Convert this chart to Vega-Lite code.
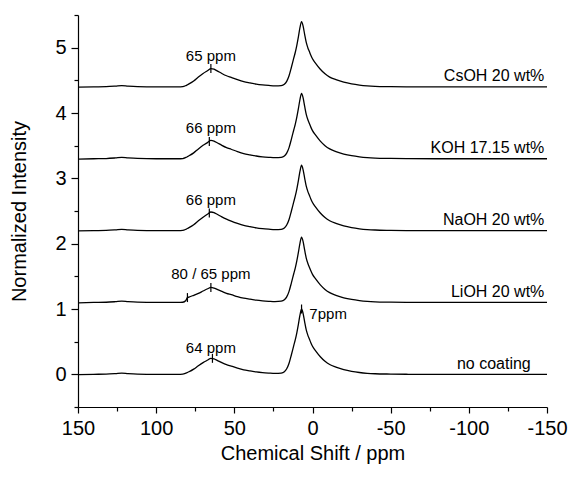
{
  "$schema": "https://vega.github.io/schema/vega-lite/v6.json",
  "width": 469,
  "height": 392,
  "autosize": "none",
  "padding": {"left": 78, "top": 15, "right": 24, "bottom": 70},
  "background": "white",
  "config": {
    "view": {"stroke": null},
    "font": "Liberation Sans",
    "axis": {
      "domainColor": "black", "tickColor": "black", "labelColor": "black", "titleColor": "black",
      "grid": false, "labelFont": "Liberation Sans", "titleFont": "Liberation Sans",
      "labelFontSize": 20, "titleFontSize": 20, "titleFontWeight": "normal", "domainWidth": 1.2, "tickWidth": 1.2
    }
  },
  "datasets": {
    "spectra": [
      {"x": 150, "a": -0.005, "b": 1.095, "c": 2.195, "d": 3.295, "e": 4.395},
      {"x": 140, "a": 0, "b": 1.1, "c": 2.2, "d": 3.3, "e": 4.4},
      {"x": 132, "a": 0.003, "b": 1.103, "c": 2.203, "d": 3.303, "e": 4.403},
      {"x": 126, "a": 0.012, "b": 1.112, "c": 2.212, "d": 3.312, "e": 4.412},
      {"x": 122, "a": 0.02, "b": 1.12, "c": 2.22, "d": 3.32, "e": 4.42},
      {"x": 118, "a": 0.012, "b": 1.112, "c": 2.212, "d": 3.312, "e": 4.412},
      {"x": 112, "a": 0.004, "b": 1.104, "c": 2.204, "d": 3.304, "e": 4.404},
      {"x": 100, "a": 0, "b": 1.1, "c": 2.2, "d": 3.3, "e": 4.4},
      {"x": 90, "a": 0, "b": 1.1, "c": 2.2, "d": 3.3, "e": 4.4},
      {"x": 86, "a": 0, "b": 1.1, "c": 2.2, "d": 3.3, "e": 4.4},
      {"x": 83, "a": 0.003, "b": 1.103, "c": 2.203, "d": 3.303, "e": 4.403},
      {"x": 81, "a": 0.018, "b": 1.13, "c": 2.22, "d": 3.32, "e": 4.42},
      {"x": 80, "a": 0.028, "b": 1.175, "c": 2.232, "d": 3.332, "e": 4.432},
      {"x": 79, "a": 0.039, "b": 1.182, "c": 2.245, "d": 3.345, "e": 4.445},
      {"x": 76, "a": 0.079, "b": 1.21, "c": 2.29, "d": 3.39, "e": 4.49},
      {"x": 73, "a": 0.131, "b": 1.24, "c": 2.35, "d": 3.45, "e": 4.55},
      {"x": 70, "a": 0.179, "b": 1.275, "c": 2.405, "d": 3.505, "e": 4.605},
      {"x": 67, "a": 0.219, "b": 1.31, "c": 2.455, "d": 3.55, "e": 4.65},
      {"x": 65, "a": 0.245, "b": 1.33, "c": 2.485, "d": 3.58, "e": 4.68},
      {"x": 63, "a": 0.236, "b": 1.32, "c": 2.475, "d": 3.57, "e": 4.67},
      {"x": 61, "a": 0.214, "b": 1.3, "c": 2.45, "d": 3.545, "e": 4.645},
      {"x": 58, "a": 0.179, "b": 1.27, "c": 2.41, "d": 3.505, "e": 4.605},
      {"x": 55, "a": 0.149, "b": 1.24, "c": 2.375, "d": 3.47, "e": 4.57},
      {"x": 52, "a": 0.127, "b": 1.22, "c": 2.345, "d": 3.445, "e": 4.545},
      {"x": 48, "a": 0.096, "b": 1.19, "c": 2.31, "d": 3.41, "e": 4.51},
      {"x": 44, "a": 0.07, "b": 1.166, "c": 2.28, "d": 3.38, "e": 4.48},
      {"x": 40, "a": 0.053, "b": 1.15, "c": 2.26, "d": 3.36, "e": 4.46},
      {"x": 36, "a": 0.037, "b": 1.135, "c": 2.242, "d": 3.342, "e": 4.442},
      {"x": 32, "a": 0.026, "b": 1.125, "c": 2.23, "d": 3.33, "e": 4.43},
      {"x": 28, "a": 0.019, "b": 1.118, "c": 2.222, "d": 3.322, "e": 4.422},
      {"x": 24, "a": 0.014, "b": 1.113, "c": 2.216, "d": 3.316, "e": 4.416},
      {"x": 20, "a": 0.02, "b": 1.12, "c": 2.22, "d": 3.32, "e": 4.42},
      {"x": 18, "a": 0.04, "b": 1.14, "c": 2.24, "d": 3.34, "e": 4.44},
      {"x": 16.5, "a": 0.085, "b": 1.185, "c": 2.285, "d": 3.385, "e": 4.485},
      {"x": 15, "a": 0.17, "b": 1.27, "c": 2.37, "d": 3.47, "e": 4.57},
      {"x": 13.5, "a": 0.3, "b": 1.4, "c": 2.5, "d": 3.6, "e": 4.7},
      {"x": 12, "a": 0.44, "b": 1.54, "c": 2.64, "d": 3.74, "e": 4.84},
      {"x": 11, "a": 0.53, "b": 1.63, "c": 2.73, "d": 3.83, "e": 4.93},
      {"x": 10, "a": 0.64, "b": 1.74, "c": 2.84, "d": 3.94, "e": 5.04},
      {"x": 9, "a": 0.77, "b": 1.87, "c": 2.97, "d": 4.07, "e": 5.17},
      {"x": 8, "a": 0.91, "b": 2.01, "c": 3.11, "d": 4.21, "e": 5.31},
      {"x": 7, "a": 1.0, "b": 2.1, "c": 3.2, "d": 4.3, "e": 5.4},
      {"x": 6, "a": 0.93, "b": 2.03, "c": 3.13, "d": 4.23, "e": 5.33},
      {"x": 5, "a": 0.8, "b": 1.9, "c": 3.0, "d": 4.1, "e": 5.2},
      {"x": 4, "a": 0.68, "b": 1.78, "c": 2.88, "d": 3.98, "e": 5.08},
      {"x": 3, "a": 0.6, "b": 1.7, "c": 2.8, "d": 3.9, "e": 5.0},
      {"x": 2, "a": 0.54, "b": 1.64, "c": 2.74, "d": 3.84, "e": 4.94},
      {"x": 1, "a": 0.48, "b": 1.58, "c": 2.68, "d": 3.78, "e": 4.88},
      {"x": 0, "a": 0.43, "b": 1.53, "c": 2.63, "d": 3.73, "e": 4.83},
      {"x": -2, "a": 0.36, "b": 1.46, "c": 2.56, "d": 3.66, "e": 4.76},
      {"x": -5, "a": 0.27, "b": 1.37, "c": 2.47, "d": 3.57, "e": 4.67},
      {"x": -8, "a": 0.2, "b": 1.3, "c": 2.4, "d": 3.5, "e": 4.6},
      {"x": -11, "a": 0.15, "b": 1.25, "c": 2.35, "d": 3.45, "e": 4.55},
      {"x": -15, "a": 0.11, "b": 1.21, "c": 2.31, "d": 3.41, "e": 4.51},
      {"x": -20, "a": 0.072, "b": 1.172, "c": 2.272, "d": 3.372, "e": 4.472},
      {"x": -25, "a": 0.046, "b": 1.146, "c": 2.246, "d": 3.346, "e": 4.446},
      {"x": -30, "a": 0.028, "b": 1.128, "c": 2.228, "d": 3.328, "e": 4.428},
      {"x": -35, "a": 0.016, "b": 1.116, "c": 2.216, "d": 3.316, "e": 4.416},
      {"x": -40, "a": 0.009, "b": 1.109, "c": 2.209, "d": 3.309, "e": 4.409},
      {"x": -50, "a": 0.004, "b": 1.104, "c": 2.204, "d": 3.304, "e": 4.404},
      {"x": -60, "a": 0.001, "b": 1.101, "c": 2.201, "d": 3.301, "e": 4.401},
      {"x": -80, "a": 0, "b": 1.1, "c": 2.2, "d": 3.3, "e": 4.4},
      {"x": -150, "a": 0, "b": 1.1, "c": 2.2, "d": 3.3, "e": 4.4}
    ],
    "markers": [
      {"x": 64, "y": 0.245},
      {"x": 7, "y": 1.0},
      {"x": 80, "y": 1.175},
      {"x": 65, "y": 1.33},
      {"x": 66, "y": 2.47},
      {"x": 66, "y": 3.565},
      {"x": 65, "y": 4.68}
    ],
    "peaklabels": [
      {"x": 65, "y": 0.41, "t": "64 ppm"},
      {"x": 65, "y": 1.53, "t": "80 / 65 ppm"},
      {"x": 65, "y": 2.67, "t": "66 ppm"},
      {"x": 65, "y": 3.77, "t": "66 ppm"},
      {"x": 65, "y": 4.865, "t": "65 ppm"}
    ],
    "peak7": [
      {"x": 2, "y": 0.925, "t": "7ppm"}
    ],
    "names": [
      {"x": -139.6, "y": 0.16, "t": "no coating"},
      {"x": -148.3, "y": 1.26, "t": "LiOH 20 wt%"},
      {"x": -148.3, "y": 2.36, "t": "NaOH 20 wt%"},
      {"x": -148.3, "y": 3.46, "t": "KOH 17.15 wt%"},
      {"x": -148.3, "y": 4.56, "t": "CsOH 20 wt%"}
    ]
  },
  "encoding": {
    "x": {
      "field": "x", "type": "quantitative",
      "scale": {"domain": [-150, 150], "reverse": true, "nice": false, "zero": false},
      "axis": {
        "title": "Chemical Shift / ppm",
        "values": [150, 125, 100, 75, 50, 25, 0, -25, -50, -75, -100, -125, -150],
        "labelExpr": "datum.value % 50 === 0 ? '' + datum.value : ''",
        "tickSize": {"condition": {"test": "datum.value % 50 !== 0", "value": 4}, "value": 6},
        "labelPadding": 5,
        "titlePadding": 5,
        "labelFlush": false,
        "labelOverlap": false
      }
    },
    "y": {
      "field": "y", "type": "quantitative",
      "scale": {"domain": [-0.5, 5.5], "nice": false, "zero": false},
      "axis": {
        "title": "Normalized Intensity",
        "values": [-0.5, 0, 0.5, 1, 1.5, 2, 2.5, 3, 3.5, 4, 4.5, 5, 5.5],
        "labelExpr": "datum.value % 1 === 0 ? '' + datum.value : ''",
        "tickSize": {"condition": {"test": "datum.value % 1 !== 0", "value": 4}, "value": 7},
        "labelPadding": 5,
        "titlePadding": 25,
        "labelFlush": false,
        "labelOverlap": false
      }
    }
  },
  "layer": [
    {
      "data": {"name": "spectra"},
      "transform": [{"fold": ["a", "b", "c", "d", "e"], "as": ["series", "y"]}],
      "mark": {"type": "line", "color": "black", "strokeWidth": 1.3, "interpolate": "monotone"},
      "encoding": {"detail": {"field": "series"}}
    },
    {
      "data": {"name": "markers"},
      "mark": {"type": "point", "shape": "M0,-1L0,1", "size": 81, "stroke": "black", "strokeWidth": 1.2, "filled": false, "opacity": 1}
    },
    {
      "data": {"name": "peaklabels"},
      "mark": {"type": "text", "fontSize": 15, "align": "center", "baseline": "middle", "color": "black"},
      "encoding": {"text": {"field": "t"}}
    },
    {
      "data": {"name": "peak7"},
      "mark": {"type": "text", "fontSize": 15, "align": "left", "baseline": "middle", "color": "black"},
      "encoding": {"text": {"field": "t"}}
    },
    {
      "data": {"name": "names"},
      "mark": {"type": "text", "fontSize": 16, "align": "right", "baseline": "middle", "color": "black"},
      "encoding": {"text": {"field": "t"}}
    }
  ]
}
